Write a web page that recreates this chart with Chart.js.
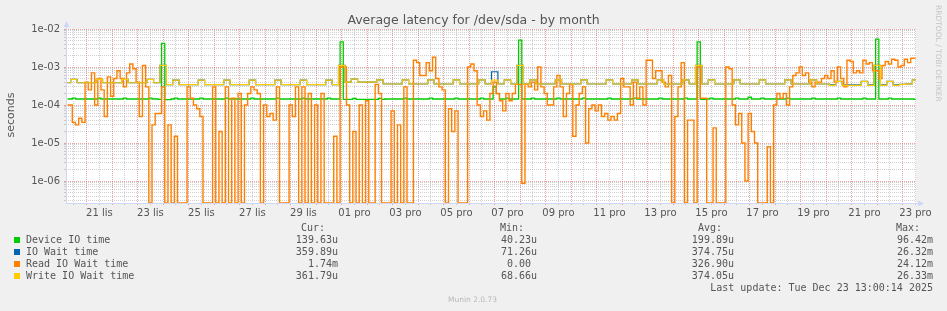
<!DOCTYPE html>
<html>
<head>
<meta charset="utf-8">
<script src="https://cdn.jsdelivr.net/npm/chart.js@4.4.0/dist/chart.umd.min.js"></script>
<style>
  body { margin: 0; background: #f0f0f0; }
  #wrap { position: relative; width: 947px; height: 311px; overflow: hidden; font-family: "DejaVu Sans", sans-serif; color: #555; }
  #c { position: absolute; left: 0; top: 0; }
  .txt { position: absolute; white-space: pre; }
  .mono { font-family: "DejaVu Sans Mono", monospace; font-size: 10px; line-height: 12px; }
  .sq { position: absolute; width: 6px; height: 6px; }
</style>
</head>
<body>
<div id="wrap">
  <canvas id="c" width="947" height="311"></canvas>
  <div class="txt" style="left:0;width:947px;top:12px;text-align:center;font-size:12.5px;line-height:15px;">Average latency for /dev/sda - by month</div>
  <div class="txt" style="left:-39px;top:108px;width:100px;text-align:center;font-size:11px;line-height:14px;transform:rotate(-90deg);">seconds</div>
  <div class="txt" style="left:934px;top:5px;font-size:7.5px;color:#c4c4c4;writing-mode:vertical-rl;">RRDTOOL / TOBI OETIKER</div>
  <div class="txt" style="left:0;width:945px;top:295px;text-align:center;font-size:7.5px;line-height:10px;color:#b8b8b8;">Munin 2.0.73</div>
  <div id="legend"></div>
</div>
<script>
// time axis in days from 21 lis 00:00
const X_START = -0.75;
const X_STEP = 0.25;       // 6 h samples (io wait, write)
const X_STEP_FINE = 0.125; // 3 h samples (device, read)
const X_MIN = -0.81;
const X_MAX = 32.52;
const Y_MIN = 2.64e-7;
const Y_MAX = 1e-2;

const dateLabels = ["21 lis", "23 lis", "25 lis", "27 lis", "29 lis", "01 pro", "03 pro", "05 pro",
  "07 pro", "09 pro", "11 pro", "13 pro", "15 pro", "17 pro", "19 pro", "21 pro", "23 pro"];

// one row per day, 3 h apart
const deviceIO = [
  1.44e-4, 1.44e-4, 1.52e-4, 1.44e-4, 1.44e-4, 1.44e-4, 1.44e-4, 1.44e-4,
  1.44e-4, 1.44e-4, 1.52e-4, 1.44e-4, 1.44e-4, 1.44e-4, 1.44e-4, 1.44e-4,
  1.44e-4, 1.44e-4, 1.52e-4, 1.44e-4, 1.44e-4, 1.44e-4, 1.44e-4, 1.44e-4,
  1.44e-4, 1.44e-4, 1.52e-4, 1.44e-4, 1.44e-4, 1.40e-4, 4.2e-3, 1.38e-4,
  1.38e-4, 1.44e-4, 1.52e-4, 1.44e-4, 1.44e-4, 1.44e-4, 1.44e-4, 1.44e-4,
  1.44e-4, 1.44e-4, 1.52e-4, 1.44e-4, 1.44e-4, 1.44e-4, 1.44e-4, 1.44e-4,
  1.44e-4, 1.44e-4, 1.52e-4, 1.44e-4, 1.44e-4, 1.44e-4, 1.44e-4, 1.44e-4,
  1.44e-4, 1.44e-4, 1.52e-4, 1.44e-4, 1.44e-4, 1.44e-4, 1.44e-4, 1.44e-4,
  1.44e-4, 1.44e-4, 1.52e-4, 1.44e-4, 1.44e-4, 1.44e-4, 1.44e-4, 1.44e-4,
  1.44e-4, 1.44e-4, 1.52e-4, 1.44e-4, 1.44e-4, 1.44e-4, 1.44e-4, 1.44e-4,
  1.44e-4, 1.44e-4, 1.52e-4, 1.44e-4, 1.44e-4, 1.44e-4, 4.6e-3, 1.40e-4,
  1.40e-4, 1.40e-4, 1.50e-4, 1.40e-4, 1.40e-4, 1.40e-4, 1.40e-4, 1.40e-4,
  1.40e-4, 1.40e-4, 1.50e-4, 1.40e-4, 1.44e-4, 1.44e-4, 1.44e-4, 1.44e-4,
  1.44e-4, 1.44e-4, 1.52e-4, 1.44e-4, 1.44e-4, 1.44e-4, 1.44e-4, 1.44e-4,
  1.44e-4, 1.44e-4, 1.52e-4, 1.44e-4, 1.44e-4, 1.44e-4, 1.44e-4, 1.44e-4,
  1.44e-4, 1.44e-4, 1.52e-4, 1.44e-4, 1.44e-4, 1.44e-4, 1.44e-4, 1.44e-4,
  1.44e-4, 1.44e-4, 1.52e-4, 1.44e-4, 1.44e-4, 1.44e-4, 3.0e-4, 2.0e-4,
  1.44e-4, 1.44e-4, 1.52e-4, 1.44e-4, 1.44e-4, 1.44e-4, 5.1e-3, 1.44e-4,
  1.44e-4, 1.44e-4, 1.52e-4, 1.44e-4, 1.44e-4, 1.44e-4, 1.44e-4, 1.44e-4,
  1.44e-4, 1.44e-4, 1.52e-4, 1.44e-4, 1.44e-4, 1.44e-4, 1.44e-4, 1.44e-4,
  1.44e-4, 1.44e-4, 1.52e-4, 1.44e-4, 1.44e-4, 1.44e-4, 1.44e-4, 1.44e-4,
  1.44e-4, 1.44e-4, 1.52e-4, 1.44e-4, 1.44e-4, 1.44e-4, 1.44e-4, 1.44e-4,
  1.44e-4, 1.44e-4, 1.52e-4, 1.44e-4, 1.44e-4, 1.44e-4, 1.44e-4, 1.44e-4,
  1.44e-4, 1.44e-4, 1.52e-4, 1.44e-4, 1.44e-4, 1.44e-4, 1.44e-4, 1.44e-4,
  1.44e-4, 1.44e-4, 1.52e-4, 1.44e-4, 1.44e-4, 1.44e-4, 4.6e-3, 1.40e-4,
  1.40e-4, 1.44e-4, 1.52e-4, 1.44e-4, 1.44e-4, 1.44e-4, 1.44e-4, 1.44e-4,
  1.44e-4, 1.44e-4, 1.52e-4, 1.44e-4, 1.44e-4, 1.44e-4, 1.60e-4, 1.44e-4,
  1.44e-4, 1.44e-4, 1.52e-4, 1.44e-4, 1.44e-4, 1.44e-4, 1.44e-4, 1.44e-4,
  1.44e-4, 1.44e-4, 1.52e-4, 1.44e-4, 1.44e-4, 1.44e-4, 1.44e-4, 1.44e-4,
  1.44e-4, 1.44e-4, 1.52e-4, 1.44e-4, 1.44e-4, 1.44e-4, 1.44e-4, 1.44e-4,
  1.44e-4, 1.44e-4, 1.52e-4, 1.44e-4, 1.44e-4, 1.44e-4, 1.44e-4, 1.44e-4,
  1.44e-4, 1.44e-4, 1.52e-4, 1.44e-4, 1.44e-4, 1.44e-4, 5.4e-3, 1.44e-4,
  1.44e-4, 1.44e-4, 1.52e-4, 1.44e-4, 1.44e-4, 1.44e-4, 1.44e-4, 1.44e-4,
  1.44e-4, 1.44e-4, 1.40e-4
];

const ioWait = [
  3.85e-4, 4.7e-4, 3.85e-4, 3.85e-4,  3.85e-4, 4.7e-4, 3.85e-4, 3.85e-4,
  3.85e-4, 4.7e-4, 3.85e-4, 3.85e-4,  3.85e-4, 4.7e-4, 3.85e-4, 1.1e-3,
  3.45e-4, 4.5e-4, 3.45e-4, 3.45e-4,  3.45e-4, 4.5e-4, 3.45e-4, 3.45e-4,
  3.45e-4, 4.5e-4, 3.45e-4, 3.45e-4,  3.45e-4, 4.5e-4, 3.45e-4, 3.45e-4,
  3.45e-4, 4.5e-4, 3.45e-4, 3.45e-4,  3.45e-4, 4.5e-4, 3.45e-4, 3.45e-4,
  3.45e-4, 4.5e-4, 3.45e-4, 1.1e-3,   4.0e-4, 4.8e-4, 4.0e-4, 4.0e-4,
  4.0e-4, 4.6e-4, 3.57e-4, 3.57e-4,   3.57e-4, 4.6e-4, 3.57e-4, 3.57e-4,
  3.57e-4, 4.6e-4, 3.57e-4, 3.57e-4,  3.57e-4, 4.6e-4, 3.57e-4, 3.57e-4,
  3.57e-4, 4.6e-4, 3.57e-4, 7.5e-4,   3.57e-4, 4.6e-4, 3.57e-4, 1.1e-3,
  3.57e-4, 4.6e-4, 3.57e-4, 3.57e-4,  3.57e-4, 4.6e-4, 3.57e-4, 3.57e-4,
  3.57e-4, 4.6e-4, 3.57e-4, 3.57e-4,  3.57e-4, 4.6e-4, 3.57e-4, 3.57e-4,
  3.57e-4, 4.6e-4, 3.57e-4, 3.57e-4,  3.57e-4, 4.6e-4, 3.57e-4, 3.57e-4,
  3.57e-4, 4.6e-4, 3.57e-4, 1.1e-3,   3.57e-4, 4.6e-4, 3.57e-4, 3.57e-4,
  3.57e-4, 4.6e-4, 3.57e-4, 3.57e-4,  3.57e-4, 4.6e-4, 3.57e-4, 3.57e-4,
  3.57e-4, 4.6e-4, 3.57e-4, 3.57e-4,  3.57e-4, 4.6e-4, 3.57e-4, 3.57e-4,
  3.4e-4, 4.2e-4, 3.4e-4, 3.4e-4,     3.4e-4, 4.2e-4, 3.4e-4, 1.1e-3,
  3.4e-4, 4.2e-4, 3.4e-4, 3.5e-4,     3.6e-4, 4.6e-4
];

// one row per day, 3 h apart
const readIO = [
  1e-4, 1e-4, 3.5e-5, 3e-5, 4.5e-5, 3.5e-5, 4e-4, 2.5e-4,
  7e-4, 1e-4, 5e-4, 2.5e-4, 5e-5, 5.5e-4, 1.7e-4, 5e-4,
  8e-4, 5e-4, 3e-4, 7e-4, 1.2e-3, 9e-4, 4e-4, 5e-5,
  1.1e-3, 3e-4, 0, 3e-5, 6e-5, 6e-5, 3e-4, 0,
  3e-5, 0, 1.5e-5, 0, 0, 0, 3e-4, 1.5e-4,
  1e-4, 8e-5, 5e-5, 0, 0, 0, 3e-4, 0,
  2e-5, 0, 3e-4, 0, 1.5e-4, 0, 2e-4, 0,
  1e-4, 2e-4, 3e-4, 2.5e-4, 2e-4, 0, 1e-4, 5e-5,
  6e-5, 4e-5, 3e-4, 0, 0, 0, 1e-4, 5e-5,
  3e-4, 0, 3e-4, 0, 2e-4, 0, 1e-4, 0,
  2e-4, 0, 0, 0, 1.5e-5, 0, 1e-3, 1e-3,
  1e-4, 0, 2e-5, 0, 1e-4, 0, 1.3e-4, 0,
  0, 3.5e-4, 2e-4, 0, 0, 0, 7e-5, 0,
  3e-5, 0, 3e-4, 0, 0, 1.5e-3, 1.3e-3, 6e-4,
  6e-4, 1.3e-3, 8e-4, 1.8e-3, 5e-4, 3e-4, 2.5e-4, 0,
  8e-5, 2e-5, 7e-5, 0, 0, 0, 1e-3, 1.2e-3,
  8e-4, 1e-4, 5e-5, 7e-5, 4e-5, 2e-4, 4e-4, 2e-4,
  1.3e-4, 7e-5, 2e-4, 1.3e-4, 2e-4, 3.5e-4, 3.5e-4, 8.7e-7,
  3.5e-4, 3e-4, 4e-4, 2.5e-4, 1e-3, 3e-4, 2e-4, 1e-4,
  1e-4, 3e-4, 6e-4, 3e-4, 5e-5, 2e-4, 3.5e-4, 1.5e-5,
  1e-4, 2e-4, 3e-4, 1e-5, 8e-5, 1e-4, 7e-5, 1e-4,
  5e-5, 6e-5, 4e-5, 5e-5, 4e-5, 6e-5, 5e-4, 3e-4,
  3e-4, 1e-4, 4e-4, 1.5e-4, 3e-4, 1e-4, 1.5e-3, 1.5e-3,
  5e-4, 8e-4, 8e-4, 4e-4, 3e-4, 6e-4, 0, 5e-5,
  3e-4, 1.3e-3, 0, 4e-5, 4e-5, 0, 1e-3, 1.5e-4,
  1.5e-4, 0, 0, 2.5e-5, 0, 0, 0, 1e-3,
  9e-4, 1e-4, 3e-5, 6e-5, 1e-5, 1e-6, 6e-5, 2e-5,
  1e-5, 0, 0, 0, 8e-6, 0, 1e-4, 2e-4,
  1.5e-4, 2e-4, 1e-4, 3e-4, 6e-4, 7e-4, 1e-3, 6e-4,
  7e-4, 4e-4, 3e-4, 4e-4, 4e-4, 5e-4, 6e-4, 5e-4,
  8e-4, 4e-4, 1e-3, 5e-4, 3e-4, 1.5e-3, 1.4e-3, 7e-4,
  8e-4, 7e-4, 1.5e-3, 1.2e-3, 1.3e-3, 8e-4, 8e-4, 5e-4,
  1.1e-3, 1.4e-3, 1.2e-3, 1.6e-3, 1.5e-3, 1e-3, 1.1e-3, 1.6e-3,
  1.3e-3, 1.7e-3, 1.7e-3
];

const writeIO = [
  3.85e-4, 4.7e-4, 3.85e-4, 3.85e-4,  3.85e-4, 4.7e-4, 3.85e-4, 3.85e-4,
  3.85e-4, 4.7e-4, 3.85e-4, 3.85e-4,  3.85e-4, 4.7e-4, 3.85e-4, 1.1e-3,
  3.45e-4, 4.5e-4, 3.45e-4, 3.45e-4,  3.45e-4, 4.5e-4, 3.45e-4, 3.45e-4,
  3.45e-4, 4.5e-4, 3.45e-4, 3.45e-4,  3.45e-4, 4.5e-4, 3.45e-4, 3.45e-4,
  3.45e-4, 4.5e-4, 3.45e-4, 3.45e-4,  3.45e-4, 4.5e-4, 3.45e-4, 3.45e-4,
  3.45e-4, 4.5e-4, 3.45e-4, 1.1e-3,   4.0e-4, 4.8e-4, 4.0e-4, 4.0e-4,
  4.0e-4, 4.6e-4, 3.57e-4, 3.57e-4,   3.57e-4, 4.6e-4, 3.57e-4, 3.57e-4,
  3.57e-4, 4.6e-4, 3.57e-4, 3.57e-4,  3.57e-4, 4.6e-4, 3.57e-4, 3.57e-4,
  3.57e-4, 4.6e-4, 3.57e-4, 4.5e-4,   3.57e-4, 4.6e-4, 3.57e-4, 1.1e-3,
  3.57e-4, 4.6e-4, 3.57e-4, 3.57e-4,  3.57e-4, 4.6e-4, 3.57e-4, 3.57e-4,
  3.57e-4, 4.6e-4, 3.57e-4, 3.57e-4,  3.57e-4, 4.6e-4, 3.57e-4, 3.57e-4,
  3.57e-4, 4.6e-4, 3.57e-4, 3.57e-4,  3.57e-4, 4.6e-4, 3.57e-4, 3.57e-4,
  3.57e-4, 4.6e-4, 3.57e-4, 1.1e-3,   3.57e-4, 4.6e-4, 3.57e-4, 3.57e-4,
  3.57e-4, 4.6e-4, 3.57e-4, 3.57e-4,  3.57e-4, 4.6e-4, 3.57e-4, 3.57e-4,
  3.57e-4, 4.6e-4, 3.57e-4, 3.57e-4,  3.57e-4, 4.6e-4, 3.57e-4, 3.57e-4,
  3.3e-4, 4.2e-4, 3.3e-4, 3.3e-4,     3.3e-4, 4.2e-4, 3.3e-4, 1.1e-3,
  3.3e-4, 4.2e-4, 3.3e-4, 3.5e-4,     3.6e-4, 4.6e-4
];

// legend table
const seriesNames = ["Device IO time", "IO Wait time", "Read IO Wait time", "Write IO Wait time"];
const seriesColors = ["#00cc00", "#0066b3", "#ff8000", "#ffcc00"];
const curVals = ["139.63u", "359.89u", "1.74m", "361.79u"];
const minVals = ["40.23u", "71.26u", "0.00 ", "68.66u"];
const avgVals = ["199.89u", "374.75u", "326.90u", "374.05u"];
const maxVals = ["96.42m", "26.32m", "24.12m", "26.33m"];

const legend = document.getElementById("legend");
let html = "";
html += '<div class="txt mono" style="top:222px;right:622px">Cur:</div>';
html += '<div class="txt mono" style="top:222px;right:423px">Min:</div>';
html += '<div class="txt mono" style="top:222px;right:225px">Avg:</div>';
html += '<div class="txt mono" style="top:222px;right:27px">Max:</div>';
seriesNames.forEach((name, i) => {
  const top = 234 + i * 12;
  html += `<div class="sq" style="left:14px;top:${top + 3}px;background:${seriesColors[i]}"></div>`;
  html += `<div class="txt mono" style="left:26px;top:${top}px">${name}</div>`;
  html += `<div class="txt mono" style="right:609px;top:${top}px">${curVals[i]}</div>`;
  html += `<div class="txt mono" style="right:410px;top:${top}px">${minVals[i]}</div>`;
  html += `<div class="txt mono" style="right:213px;top:${top}px">${avgVals[i]}</div>`;
  html += `<div class="txt mono" style="right:14px;top:${top}px">${maxVals[i]}</div>`;
});
html += '<div class="txt mono" style="right:14px;top:282px">Last update: Tue Dec 23 13:00:14 2025</div>';
legend.innerHTML = html;

const GRID_MINOR = "rgba(150,150,150,0.45)";
const GRID_MAJOR = "rgba(225,90,90,0.55)";
const AXIS = "#cfd6f8";

function toPoints(arr, step) {
  return arr.map((v, i) => ({ x: X_START + i * step, y: Math.max(v, Y_MIN) }));
}

function mk(label, arr, step, color, order, width) {
  return {
    label: label,
    data: toPoints(arr, step),
    borderColor: color,
    borderWidth: width,
    pointRadius: 0,
    stepped: "middle",
    fill: false,
    order: order
  };
}

function isDecade(v) {
  const l = Math.log10(v);
  return Math.abs(l - Math.round(l)) < 1e-9;
}

const frame = {
  id: "frame",
  beforeDraw(chart) {
    const { ctx, chartArea: a } = chart;
    ctx.save();
    ctx.fillStyle = "#f0f0f0";
    ctx.fillRect(0, 0, chart.width, chart.height);
    ctx.fillStyle = "#ffffff";
    ctx.fillRect(a.left, a.top, a.right - a.left, a.bottom - a.top);
    ctx.restore();
  },
  beforeDatasetsDraw(chart) {
    const { ctx, chartArea: a } = chart;
    ctx.save();
    ctx.strokeStyle = AXIS;
    ctx.fillStyle = AXIS;
    ctx.lineWidth = 1;
    ctx.beginPath();
    ctx.moveTo(a.left + 0.5, a.bottom + 0.5);
    ctx.lineTo(a.left + 0.5, a.top - 4);
    ctx.moveTo(a.left, a.bottom + 0.5);
    ctx.lineTo(a.right + 3, a.bottom + 0.5);
    ctx.stroke();
    ctx.beginPath();
    ctx.moveTo(a.left - 2.5, a.top - 2);
    ctx.lineTo(a.left + 3.5, a.top - 2);
    ctx.lineTo(a.left + 0.5, a.top - 8);
    ctx.closePath();
    ctx.fill();
    ctx.beginPath();
    ctx.moveTo(a.right + 2, a.bottom - 2.5);
    ctx.lineTo(a.right + 2, a.bottom + 3.5);
    ctx.lineTo(a.right + 8, a.bottom + 0.5);
    ctx.closePath();
    ctx.fill();
    ctx.restore();
  }
};

new Chart(document.getElementById("c"), {
  type: "line",
  data: {
    datasets: [
      mk("Device IO time", deviceIO, X_STEP_FINE, "#00cc00", 4, 1.3),
      mk("IO Wait time", ioWait, X_STEP, "#0066b3", 3, 1.2),
      mk("Read IO Wait time", readIO, X_STEP_FINE, "#ff8000", 2, 1.4),
      mk("Write IO Wait time", writeIO, X_STEP, "#ffcc00", 1, 1.2)
    ]
  },
  options: {
    responsive: false,
    animation: false,
    devicePixelRatio: 1,
    layout: { padding: { top: 29, right: 31, left: 0, bottom: 0 } },
    plugins: { legend: { display: false }, tooltip: { enabled: false }, title: { display: false } },
    scales: {
      x: {
        type: "linear",
        min: X_MIN,
        max: X_MAX,
        afterFit: s => { s.height = 108; },
        afterBuildTicks: s => {
          const t = [];
          for (let k = 0; k <= 66; k++) t.push({ value: -0.5 + k * 0.5 });
          s.ticks = t;
        },
        border: { display: false, dash: [1, 1] },
        grid: {
          color: ctx => (ctx.tick && Number.isInteger(ctx.tick.value)) ? GRID_MAJOR : GRID_MINOR,
          tickColor: ctx => (ctx.tick && Number.isInteger(ctx.tick.value)) ? GRID_MAJOR : GRID_MINOR,
          tickLength: 2
        },
        ticks: {
          autoSkip: false,
          maxRotation: 0,
          minRotation: 0,
          padding: 2,
          color: "#555",
          font: { family: "DejaVu Sans", size: 10 },
          callback: v => {
            const k = (v - 0.5) / 2;
            return Number.isInteger(k) && dateLabels[k] ? dateLabels[k] : "";
          }
        }
      },
      y: {
        type: "logarithmic",
        min: Y_MIN,
        max: Y_MAX,
        afterFit: s => { s.width = 66; },
        afterBuildTicks: s => {
          const t = [];
          for (let e = -7; e <= -2; e++) {
            for (let m = 1; m <= 9; m++) {
              const v = m * Math.pow(10, e);
              if (v >= Y_MIN && v <= Y_MAX * 1.0000001) t.push({ value: v });
            }
          }
          s.ticks = t;
        },
        border: { display: false, dash: [1, 1] },
        grid: {
          color: ctx => (ctx.tick && isDecade(ctx.tick.value)) ? GRID_MAJOR : GRID_MINOR,
          tickColor: ctx => (ctx.tick && isDecade(ctx.tick.value)) ? GRID_MAJOR : GRID_MINOR,
          tickLength: 2
        },
        ticks: {
          autoSkip: false,
          padding: 4,
          color: "#555",
          font: { family: "DejaVu Sans", size: 10 },
          callback: v => {
            if (!isDecade(v)) return "";
            const e = Math.round(Math.log10(v));
            return "1e-" + String(-e).padStart(2, "0");
          }
        }
      }
    }
  },
  plugins: [frame]
});
</script>
</body>
</html>
